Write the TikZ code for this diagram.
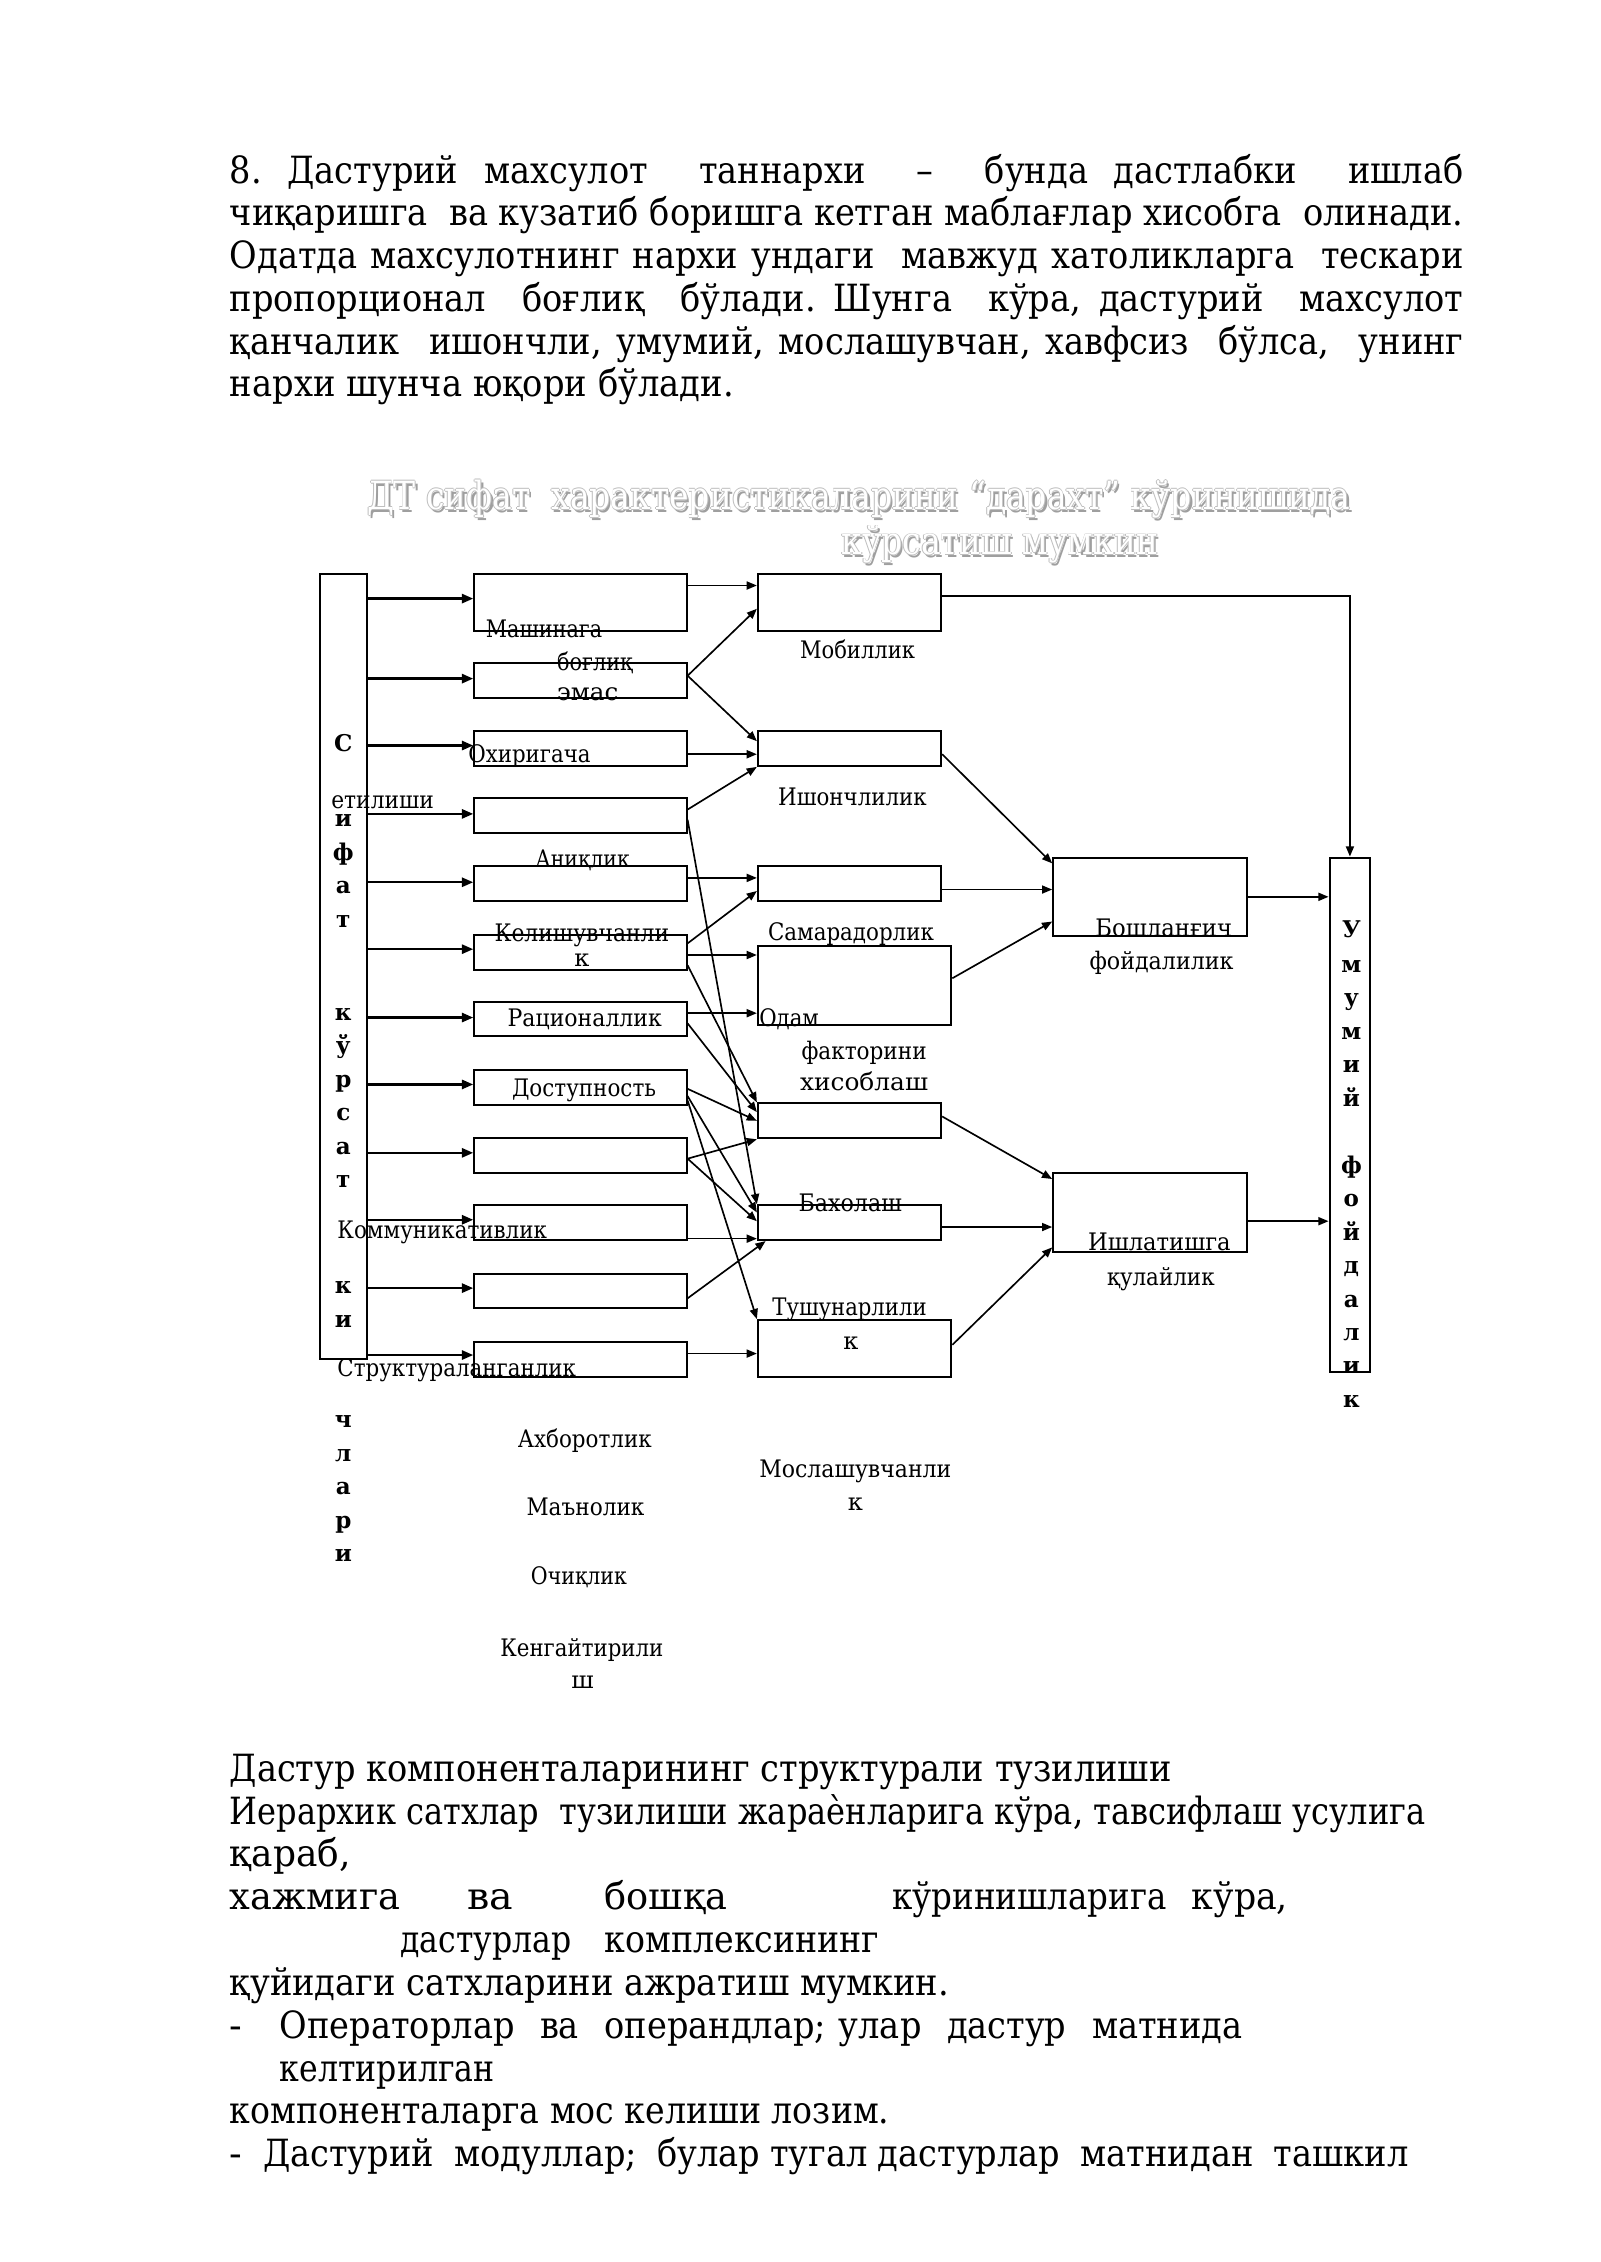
\documentclass[tikz,border=0pt]{standalone}
\usepackage{fontspec}
\usepackage{graphicx}
\setmainfont{DejaVu Serif}
\newfontfamily\bodyf{DejaVu Serif}
\usetikzlibrary{arrows.meta,fit,calc}
\newlength\dpx \setlength\dpx{0.5432pt}
\newlength\lnw
\newsavebox\lnbox
\newcommand\fitline[2]{\sbox\lnbox{#2}\setlength\lnw{\wd\lnbox}\pgfmathsetmacro\lnscale{#1*0.5432/\lnw}\scalebox{\lnscale}[1]{\usebox\lnbox}}
\newcommand\jline[2]{\pgfmathsetmacro\jw{#1/\gscale}\scalebox{\gscale}[1]{\makebox[\jw\dpx][s]{#2}}}
\tikzset{
  bx/.style={draw, line width=0.75pt, inner sep=0pt},
  arr/.style={-{Triangle[length=3.8pt,width=3pt]}, line width=0.62pt},
  larr/.style={-{Triangle[length=4.2pt,width=3.4pt]}, line width=0.85pt},
  lbl/.style={anchor=base, inner sep=0pt, font=\fontsize{9}{10}\selectfont},
  vl/.style={anchor=base, inner sep=0pt, font=\bfseries\fontsize{8.6}{10}\selectfont},
  txt/.style={anchor=base west, inner sep=0pt, font=\bodyf\fontsize{14}{16}\selectfont\frenchspacing},
  ttl/.style={anchor=base west, inner sep=0pt, font=\bodyf\fontsize{14.5}{17}\selectfont},
}
\begin{document}
\sbox\lnbox{\bodyf\fontsize{14}{16}\selectfont\frenchspacing Дастур компоненталарининг структурали тузилиши}%
\setlength\lnw{\wd\lnbox}%
\pgfmathsetmacro\gscale{647.4*0.5432/\lnw}%
\xdef\gscale{\gscale}%
\begin{tikzpicture}[x=0.019091cm, y=-0.019091cm]
\useasboundingbox (0,0) rectangle (1100,1555);
\fill[white] (0,0) rectangle (1100,1555);

% ---------- top paragraph ----------
\node[txt] (p1) at (157.6,126) {\jline{848}{8. Дастурий махсулот\ \ таннархи\ \ – \ бунда дастлабки\ \ ишлаб}};
\node[txt] (p2) at (157.6,155.3) {\jline{848}{чиқаришга\ \ ва кузатиб боришга кетган маблағлар хисобга\ \ олинади.}};
\node[txt] (p3) at (157.6,184.7) {\jline{848}{Одатда махсулотнинг нархи ундаги\ \ мавжуд хатоликларга\ \ тескари}};
\node[txt] (p4) at (157.6,214) {\jline{848}{пропорционал\ \ боғлиқ\ \ бўлади. Шунга\ \ кўра, дастурий\ \ махсулот}};
\node[txt] (p5) at (157.6,243.4) {\jline{848}{қанчалик\ \ ишончли, умумий, мослашувчан, хавфсиз\ \ бўлса,\ \ унинг}};
\node[txt] (p6) at (157.6,272.7) {\fitline{346.4}{нархи шунча юқори бўлади.}};

% ---------- title (embossed) ----------
\foreach \dx/\dy/\cc [count=\i] in {1.5/1.5/gray!75, -0.6/0/gray!50, 0.6/0/gray!50, 0/-0.6/gray!50, 0/0.6/gray!50, 0/0/white} {
  \node[ttl, text=\cc] (ta\i) at (252+\dx,350.5+\dy) {\fitline{676}{ДТ сифат\ \ характеристикаларини “дарахт” кўринишида}};
  \node[ttl, text=\cc] (tb\i) at (578+\dx,381.5+\dy) {\fitline{218}{кўрсатиш мумкин}};
}

% ---------- diagram ----------
\begin{scope}[shift={(-4,-3.5)}]
\node[bx, fit={(224,398) (256,938)}] (L) {};
\node[bx, fit={(918,593) (946,947)}] (U) {};
\node[bx, fit={(330,398) (476,437)}] (B1) {};
\foreach \k/\t in {2/459,3/506,4/552,5/599,6/646,7/692,8/739,9/786,10/832,11/879,12/926}
  \node[bx, fit={(330,\t) (476,\t+24)}] (B\k) {};
\node[bx, fit={(525,398) (651,437)}] (a) {};
\node[bx, fit={(525,506) (651,530)}] (b) {};
\node[bx, fit={(525,599) (651,623)}] (c) {};
\node[bx, fit={(525,654) (658,708)}] (d) {};
\node[bx, fit={(525,762) (651,786)}] (e) {};
\node[bx, fit={(525,832) (651,856)}] (f) {};
\node[bx, fit={(525,911) (658,950)}] (g) {};
\node[bx, fit={(728,593) (861,647)}] (P) {};
\node[bx, fit={(728,810) (861,864)}] (Q) {};

% arrows from the left box
\foreach \k/\yy in {1/415,2/470,3/516,4/563,5/610,6/656,7/703,8/749,9/796,10/842,11/889,12/935}
  \draw[larr] (L.east |- 0,\yy) -- (B\k.west |- 0,\yy);

% column 1 -> column 2
\draw[arr] (B1.east |- 0,406) -- (a.west |- 0,406);
\draw[arr] (B2.east |- 0,468) -- (a.west |- 0,422);
\draw[arr] (B2.east |- 0,468) -- (b.west |- 0,513);
\draw[arr] (B3.east |- 0,522) -- (b.west |- 0,522);
\draw[arr] (B4.east |- 0,560) -- (b.south west);
\draw[arr] (B4.east |- 0,567) -- (f.north west);
\draw[arr] (B5.east |- 0,607) -- (c.west |- 0,607);
\draw[arr] (B6.east |- 0,652) -- (c.west |- 0,616);
\draw[arr] (B6.east |- 0,660) -- (d.west |- 0,660);
\draw[arr] (B6.east |- 0,667) -- (e.north west);
\draw[arr] (B7.east |- 0,700) -- (d.west |- 0,700);
\draw[arr] (B7.east |- 0,707) -- (e.west |- 0,768);
\draw[arr] (B8.east |- 0,752) -- (e.west |- 0,774);
\draw[arr] (B8.east |- 0,757) -- (f.west |- 0,837);
\draw[arr] (B8.east |- 0,760) -- (g.north west);
\draw[arr] (B9.east |- 0,800) -- (e.south west);
\draw[arr] (B9.east |- 0,800) -- (f.west |- 0,843);
\draw[arr] (B10.east |- 0,855) -- (f.west |- 0,855);
\draw[arr] (B11.east |- 0,896) -- ($(f.south west)+(6,0)$);
\draw[arr] (B12.east |- 0,934) -- (g.west |- 0,934);

% column 2 -> column 3 -> right box
\draw[arr] (a.east |- 0,413) -| (U.north);
\draw[arr] (b.east |- 0,522) -- (P.west |- 0,597);
\draw[arr] (c.east |- 0,615) -- (P.west |- 0,615);
\draw[arr] (d.east |- 0,676) -- (P.west |- 0,637);
\draw[arr] (e.east |- 0,771) -- (Q.west |- 0,814);
\draw[arr] (f.east |- 0,847) -- (Q.west |- 0,847);
\draw[arr] (g.east |- 0,928) -- (Q.west |- 0,861);
\draw[arr] (P.east |- 0,620) -- (U.west |- 0,620);
\draw[arr] (Q.east |- 0,843) -- (U.west |- 0,843);

% labels
\node[lbl] (l1) at (378,442) {\fitline{80}{Машинага}};
\node[lbl] (l2) at (413,464.3) {\fitline{52}{боғлиқ}};
\node[lbl] (l3) at (408,485) {\fitline{42}{эмас}};
\node[lbl] (l4) at (368,528) {\fitline{84}{Охиригача}};
\node[lbl] (l5) at (267,559) {\fitline{70.5}{етилиши}};
\node[lbl] (l6) at (404.5,600) {\fitline{65}{Аниқлик}};
\node[lbl] (l7) at (404,650.6) {\fitline{120}{Келишувчанли}};
\node[lbl] (l8) at (404,668) {к};
\node[lbl] (l9) at (406,709) {\fitline{106}{Рационаллик}};
\node[lbl] (l10) at (405.5,757) {\fitline{99}{Доступность}};
\node[lbl] (l11) at (308,855) {\fitline{144}{Коммуникативлик}};
\node[lbl] (l12) at (318,950) {\fitline{164}{Структураланганлик}};
\node[lbl] (l13) at (406,998.5) {\fitline{92}{Ахборотлик}};
\node[lbl] (l14) at (406.5,1045.5) {\fitline{81}{Маънолик}};
\node[lbl] (l15) at (402,1093) {\fitline{66}{Очиқлик}};
\node[lbl] (l16) at (404,1142) {\fitline{112}{Кенгайтирили}};
\node[lbl] (l17) at (404.5,1164) {ш};
\node[lbl] (m1) at (593.5,456) {\fitline{79}{Мобиллик}};
\node[lbl] (m2) at (590,557) {\fitline{102}{Ишончлилик}};
\node[lbl] (m3) at (589,650) {\fitline{114}{Самарадорлик}};
\node[lbl] (m4) at (546.5,709) {\fitline{41}{Одам}};
\node[lbl] (m5) at (598,732) {\fitline{86}{факторини}};
\node[lbl] (m6) at (598,753) {\fitline{88}{хисоблаш}};
\node[lbl] (m7) at (588.5,836) {\fitline{71}{Бахолаш}};
\node[lbl] (m8) at (588,908) {\fitline{106}{Тушунарлили}};
\node[lbl] (m9) at (589,931) {к};
\node[lbl] (m10) at (592,1019) {\fitline{132}{Мослашувчанли}};
\node[lbl] (m11) at (592,1042) {к};
\node[lbl] (n1) at (804,647) {\fitline{94}{Бошланғич}};
\node[lbl] (n2) at (802.5,670) {\fitline{99}{фойдалилик}};
\node[lbl] (n3) at (801,863) {\fitline{98}{Ишлатишга}};
\node[lbl] (n4) at (802,887) {\fitline{74}{қулайлик}};

% vertical letters
\foreach \ch/\yy [count=\i] in {С/520,и/572,ф/595,а/618,т/641,к/705,ў/728,р/751,с/774,а/797,т/820,к/893,и/916,ч/985,л/1008,а/1031,р/1054,и/1077}
  \node[vl] (sv\i) at (240,\yy) {\ch};
\foreach \ch/\yy [count=\i] in {У/648,м/672,у/695,м/718,и/741,й/764,ф/810,о/833,й/856,д/879,а/902,л/925,и/948,к/971}
  \node[vl] (uv\i) at (933,\yy) {\ch};
\end{scope}

% ---------- bottom text ----------
\node[txt] (q1) at (157.6,1224.5) {\fitline{647.4}{Дастур компоненталарининг структурали тузилиши}};
\node[txt] (q2) at (157.6,1254) {\fitline{822}{Иерархик сатхлар\ \ тузилиши жараѐнларига кўра, тавсифлаш усулига}};
\node[txt] (q3) at (157.6,1283.4) {\fitline{83}{қараб,}};
\node[txt] (q4a) at (157.6,1312.9) {\fitline{117.4}{хажмига}};
\node[txt] (q4b) at (320.9,1312.9) {\fitline{31.5}{ва}};
\node[txt] (q4c) at (415.3,1312.9) {\fitline{84.2}{бошқа}};
\node[txt] (q4d) at (613,1312.9) {\fitline{188.5}{кўринишларига}};
\node[txt] (q4e) at (819,1312.9) {\fitline{66}{кўра,}};
\node[txt] (q5a) at (275,1342.3) {\fitline{117.5}{дастурлар}};
\node[txt] (q5b) at (415.3,1342.3) {\fitline{188.7}{комплексининг}};
\node[txt] (q6) at (157.6,1371.8) {\fitline{494.4}{қуйидаги сатхларини ажратиш мумкин.}};
\node[txt] (q7a) at (157.6,1401.2) {-};
\node[txt] (q7b) at (192,1401.2) {\jline{661.7}{Операторлар\ \ ва\ \ операндлар; улар\ \ дастур\ \ матнида}};
\node[txt] (q8) at (192,1430.7) {\fitline{147.6}{келтирилган}};
\node[txt] (q9) at (157.6,1460.1) {\fitline{453.4}{компоненталарга мос келиши лозим.}};
\node[txt] (q10a) at (157.6,1489.6) {-};
\node[txt] (q10b) at (180.5,1489.6) {\jline{787.5}{Дастурий\ \ модуллар;\ \ булар тугал дастурлар\ \ матнидан\ \ ташкил}};
\end{tikzpicture}
\end{document}
